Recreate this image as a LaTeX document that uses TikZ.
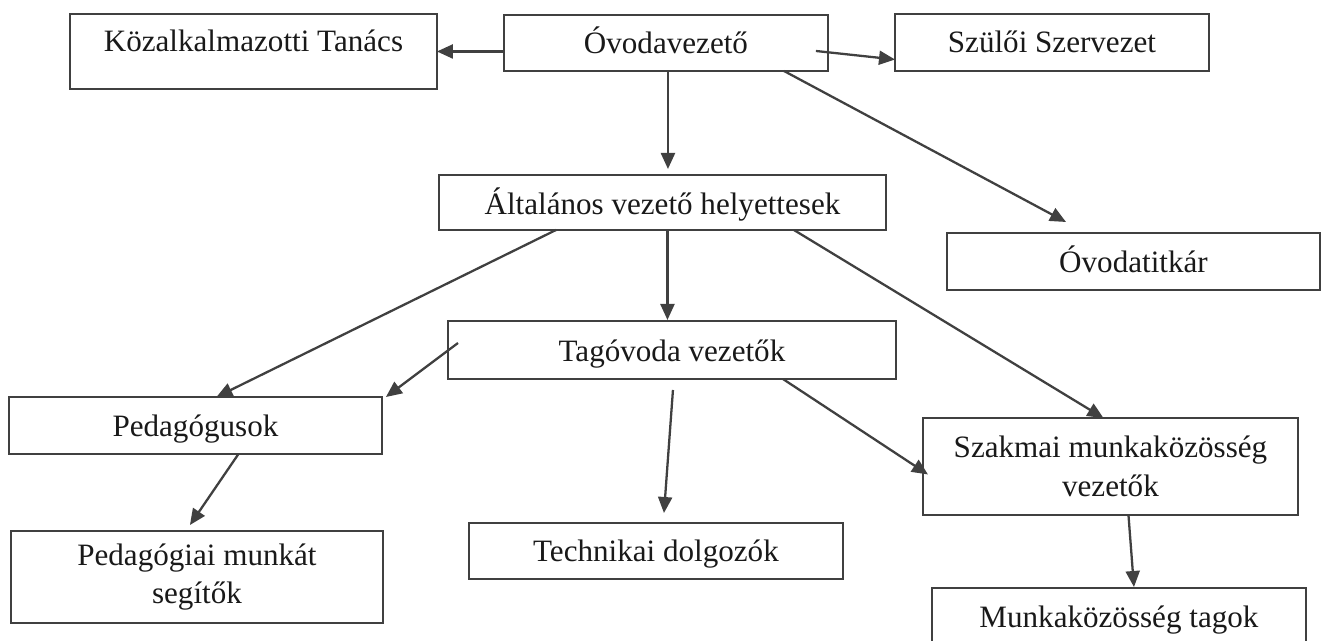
\documentclass[tikz,border=0pt]{standalone}
\usepackage{fontspec}
\setmainfont{Liberation Serif}
\usetikzlibrary{arrows.meta,calc}
\definecolor{linegray}{RGB}{64,64,64}

\begin{document}
\begin{tikzpicture}[x=0.02cm, y=-0.02cm, >={Triangle[length=0.32cm,width=0.28cm]},
		orgbox/.style={draw=linegray, line width=1.3pt, rectangle, inner sep=0pt, outer sep=0pt,
			anchor=north west, align=center, font=\fontsize{17.7}{21.9}\selectfont, text=black!90},
		link/.style={->, draw=linegray, line width=1.3pt}]
		\useasboundingbox (0,0) rectangle (1322,641);
		\clip (0,0) rectangle (1322,641);

		% Nodes
		\node[orgbox, minimum width=7.34cm, text height=0.76cm, text depth=0.74cm] (kozalk) at (70,14) {Közalkalmazotti Tanács};
		\node[orgbox, minimum width=6.48cm, text height=0.78cm, text depth=0.34cm] (vezeto) at (504,15) {Óvodavezető};
		\node[orgbox, minimum width=6.28cm, text height=0.78cm, text depth=0.36cm] (szuloi) at (895,14) {Szülői Szervezet};
		\node[orgbox, minimum width=8.94cm, text height=0.80cm, text depth=0.30cm] (helyettes) at (439,175) {Általános vezető helyettesek};
		\node[orgbox, minimum width=7.46cm, text height=0.80cm, text depth=0.34cm] (titkar) at (947,233) {Óvodatitkár};
		\node[orgbox, minimum width=8.96cm, text height=0.82cm, text depth=0.34cm] (tagovoda) at (448,321) {Tagóvoda vezetők};
		\node[orgbox, minimum width=7.46cm, text height=0.80cm, text depth=0.34cm] (pedagogus) at (9,397) {Pedagógusok};
		\node[orgbox, minimum width=7.50cm, minimum height=1.94cm] (szakmai) at (923,418) {Szakmai munkaközösség\\vezetők};
		\node[orgbox, minimum width=7.44cm, minimum height=1.84cm] (segito) at (11,531) {Pedagógiai munkát\\segítők};
		\node[orgbox, minimum width=7.48cm, text height=0.78cm, text depth=0.34cm] (technikai) at (469,523) {Technikai dolgozók};
		\node[orgbox, minimum width=7.48cm, text height=0.80cm, text depth=0.64cm] (tagok) at (932,588) {Munkaközösség tagok};

		% Arrows
		\draw[link] (vezeto.west |- kozalk.east) -- (kozalk.east);
		\draw[link] ($(vezeto.east)+(-12,8)$) -- ($(szuloi.west)+(0,17)$);
		\draw[link] ($(vezeto.south)+(2,0)$) -- ($(vezeto.south |- helyettes.north)+(2,-6)$);
		\draw[link] ($(vezeto.south west)+(280,0)$) -- ($(titkar.north west)+(119,-11)$);
		\draw[link] ($(helyettes.south)+(5,0)$) -- ($(helyettes.south |- tagovoda.north)+(5,-1)$);
		\draw[link] ($(helyettes.south west)+(117,0)$) -- ($(pedagogus.north)+(21,0)$);
		\draw[link] ($(helyettes.south east)+(-92,0)$) -- ($(szakmai.north)+(-7,0)$);
		\draw[link] ($(tagovoda.west)+(10,-7)$) -- ($(pedagogus.north east)+(4,0)$);
		\draw[link] ($(tagovoda.south)+(1,11)$) -- ($(technikai.north)+(8,-10)$);
		\draw[link] ($(tagovoda.south east)+(-113,0)$) -- ($(szakmai.west)+(5,8)$);
		\draw[link] ($(pedagogus.south)+(43,0)$) -- ($(segito.north)+(-7,-6)$);
		\draw[link] ($(szakmai.south)+(18,0)$) -- ($(tagok.north)+(15,-1)$);
	\end{tikzpicture}
\end{document}
